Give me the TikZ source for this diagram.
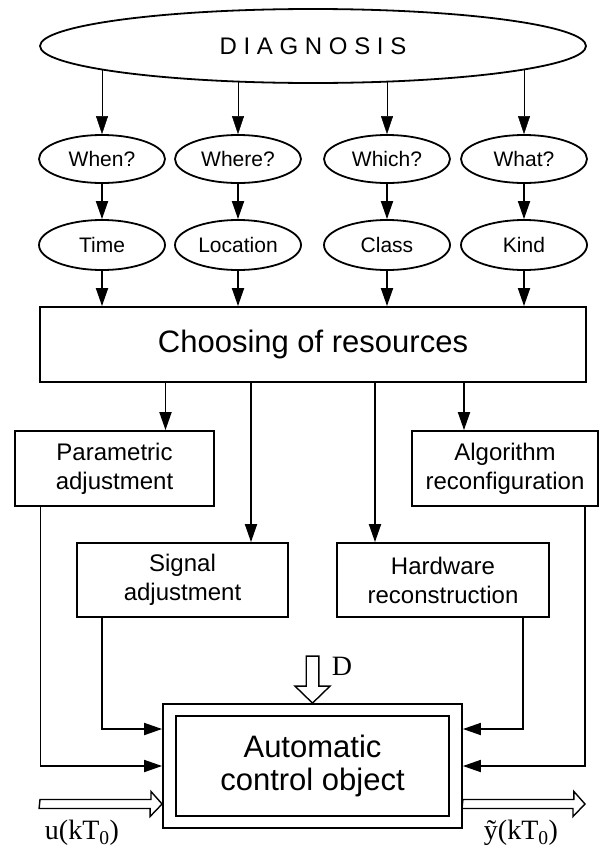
\documentclass[tikz,border=0pt]{standalone}
\usepackage{fontspec}
\setmainfont{Liberation Sans}
\newfontfamily\serifface{Liberation Serif}
\usetikzlibrary{shapes.geometric,arrows.meta,backgrounds}

\begin{document}
\begin{tikzpicture}[x=1pt,y=-1pt,
  every node/.style={inner sep=0pt},
  line width=1.8pt,
  oval/.style={draw,ellipse,fill=white,minimum width=126pt,minimum height=48pt,font=\fontsize{21}{25}\selectfont},
  box/.style={draw,rectangle,fill=white,minimum height=75pt,align=center,font=\fontsize{24}{29}\selectfont},
  arr/.style={-{Triangle[length=18pt,width=12pt]}},
  hollow/.style={line width=1.4pt,fill=white},
  lbl/.style={font=\serifface\fontsize{28}{30}\selectfont}]
\useasboundingbox (0,0) rectangle (600,849);
\node[oval,minimum width=546pt,minimum height=74pt,font=\fontsize{24}{28}\selectfont] (diag) at (313,46) {D I A G N O S I S};
\node[oval] (when) at (102,159) {When?};
\node[oval] (where) at (238,159) {Where?};
\node[oval] (which) at (387,159) {Which?};
\node[oval] (what) at (524,159) {What?};
\node[oval,minimum height=50pt] (time) at (102,245) {Time};
\node[oval,minimum height=50pt] (loc) at (238,245) {Location};
\node[oval,minimum height=50pt] (class) at (387,245) {Class};
\node[oval,minimum height=50pt] (kind) at (524,245) {Kind};
\node[box,minimum width=546pt,font=\fontsize{31}{35}\selectfont] (choose) at (313,344.5) {Choosing of resources};
\node[box,minimum width=199pt] (param) at (114.5,468.5) {Parametric\\adjustment};
\node[box,minimum width=186pt] (algo) at (505,468.5) {Algorithm\\reconfiguration};
\node[box,minimum width=211pt,minimum height=74pt] (signal) at (182.5,580) {Signal\\adjustment};
\node[box,minimum width=212pt,minimum height=74pt] (hard) at (443,580) {Hardware\\reconstruction};
\node[draw,fill=white,minimum width=299pt,minimum height=124pt] (outer) at (312.5,766) {};
\node[box,minimum width=273pt,minimum height=100pt,font=\fontsize{31}{33}\selectfont] (object) at (outer) {Automatic\\control object};
\node[lbl] (u) at (82,833) {u(kT\textsubscript{0})};
\node[lbl] (y) at (521,833) {ỹ(kT\textsubscript{0})};
\node[lbl] (d) at (342,666) {D};
\coordinate (uin) at (40,804);
\coordinate (yout) at (585,804);
% diagnosis to questions
\begin{scope}[on background layer]
\draw[arr] (diag.center -| when) -- (when);
\draw[arr] (diag.center -| where) -- (where);
\draw[arr] (diag.center -| which) -- (which);
\draw[arr] (diag.center -| what) -- (what);
\end{scope}
\path[arr]
(when) edge (time)
(where) edge (loc)
(which) edge (class)
(what) edge (kind)
(time) edge (time |- choose.north)
(loc) edge (loc |- choose.north)
(class) edge (class |- choose.north)
(kind) edge (kind |- choose.north)
;
% resources
\draw[arr] ([xshift=51pt]param.north |- choose.south) -- ([xshift=51pt]param.north);
\draw[arr] ([xshift=68.5pt]signal.north |- choose.south) -- ([xshift=68.5pt]signal.north);
\draw[arr] ([xshift=-68pt]hard.north |- choose.south) -- ([xshift=-68pt]hard.north);
\draw[arr] ([xshift=-41pt]algo.north |- choose.south) -- ([xshift=-41pt]algo.north);
% to the object
\draw[arr] ([xshift=-74pt]param.south) |- (outer.west);
\draw[arr] ([xshift=-80.5pt]signal.south) |- ([yshift=37pt]outer.west);
\draw[arr] ([xshift=80pt]hard.south) |- ([yshift=37pt]outer.east);
\draw[arr] ([xshift=80pt]algo.south) |- (outer.east);
% input, output, disturbance
\draw[hollow] (uin) ++(0,-4.5) -- ++(111,0) -- ++(0,-8) -- (outer.west |- uin) -- ++(-12,12.5) -- ++(0,-8) -- ++(-111,0) -- cycle;
\draw[hollow] (outer.east |- yout) ++(0,-4.5) -- ++(111,0) -- ++(0,-8) -- (yout) -- ++(-12,12.5) -- ++(0,-8) -- ++(-111,0) -- cycle;
\draw[hollow] (outer.north) -- ++(-17.5,-17) -- ++(11.2,0) -- ++(0,-30) -- ++(12.6,0) -- ++(0,30) -- ++(11.2,0) -- cycle;
\end{tikzpicture}
\end{document}
